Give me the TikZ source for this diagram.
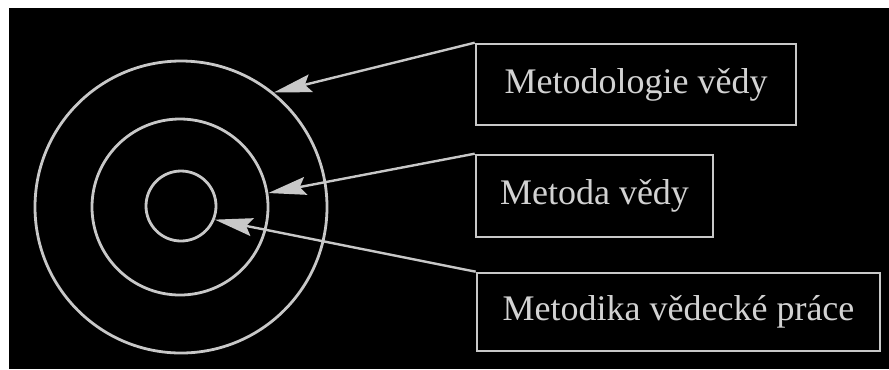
\documentclass[tikz,border=0pt]{standalone}
\usepackage{fontspec}
\setmainfont{Liberation Serif}
\usepackage{tikz}
\usetikzlibrary{positioning, shapes, arrows.meta}
\definecolor{scanGray}{HTML}{C8C8C8}
\definecolor{scanText}{HTML}{D2D2D2}

\begin{document}
\begin{tikzpicture}[
  x=0.5bp, y=-0.5bp,
  >={Stealth[length=19bp, width=9bp, inset=3bp]},
  pointer/.style={->, draw=scanGray, fill=scanGray, line width=1.2bp},
  ring/.style={circle, draw=scanGray, line width=1.4bp, inner sep=0pt},
  label box/.style={draw=scanGray, line width=1.3bp, text=scanText,
                    inner sep=0pt, align=center,
                    font=\fontsize{18bp}{21bp}\selectfont}
]
  \useasboundingbox (0,0) rectangle (889,369);
  \fill[white] (0,0) rectangle (889,369);
  \fill[black] (9,8) rectangle (889,369);

  % target rings
  \node[ring, minimum size=146bp] (outerRing)  at (181,207) {};
  \node[ring, minimum size=88bp]  (middleRing) at (180,207) {};
  \node[ring, minimum size=35bp]  (innerRing)  at (181,206) {};

  % labels
  \node[label box, minimum width=160bp, minimum height=40.5bp]
    (metodologie) at (636,84.5) {Metodologie vědy};
  \node[label box, minimum width=118.5bp, minimum height=41bp]
    (metoda) at (594.5,196) {Metoda vědy};
  \node[label box, minimum width=201.5bp, minimum height=39bp]
    (metodika) at (678.5,312) {Metodika vědecké práce};

  \draw[pointer] (metodologie.north west) -- (outerRing.51);
  \draw[pointer] (metoda.north west) -- (middleRing.9);
  \draw[pointer] (metodika.north west) -- (innerRing.-22);
\end{tikzpicture}
\end{document}
